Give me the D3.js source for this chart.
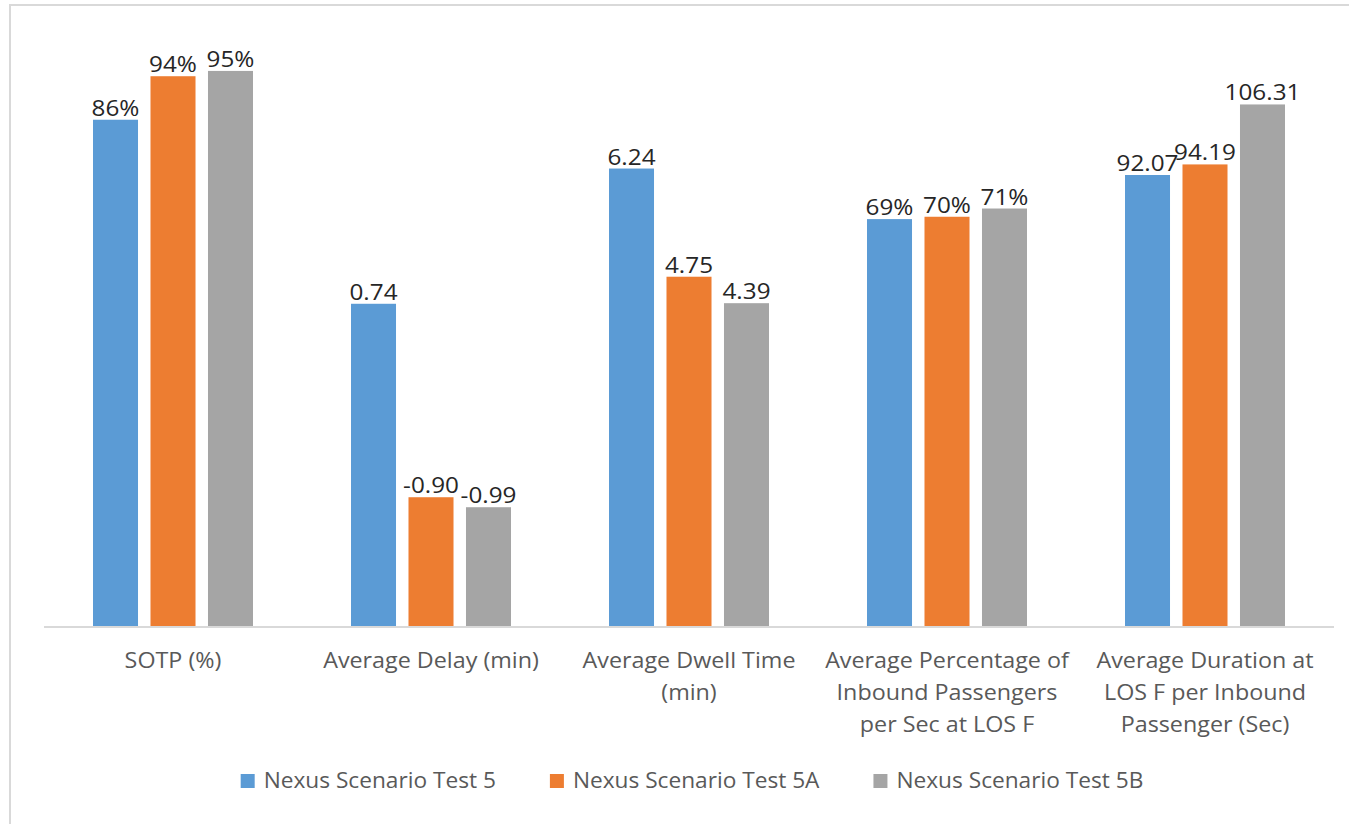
<!DOCTYPE html>
<html><head><meta charset="utf-8">
<script src="https://cdn.jsdelivr.net/npm/d3@7"></script>
<style>
html,body{margin:0;padding:0;background:#fff;}
svg{display:block;}
</style></head>
<body>
<svg id="chart" width="1349" height="824"></svg>
<script>
// ---- data ----
const categories = [
  "SOTP (%)",
  "Average Delay (min)",
  "Average Dwell Time (min)",
  "Average Percentage of Inbound Passengers per Sec at LOS F",
  "Average Duration at LOS F per Inbound Passenger (Sec)"
];
const categoryLines = [
  ["SOTP (%)"],
  ["Average Delay (min)"],
  ["Average Dwell Time", "(min)"],
  ["Average Percentage of", "Inbound Passengers", "per Sec at LOS F"],
  ["Average Duration at", "LOS F per Inbound", "Passenger (Sec)"]
];
const seriesNames = ["Nexus Scenario Test 5", "Nexus Scenario Test 5A", "Nexus Scenario Test 5B"];
// displayed data labels
const labelsTest5  = ["86%", "0.74", "6.24", "69%", "92.07"];
const labelsTest5A = ["94%", "-0.90", "4.75", "70%", "94.19"];
const labelsTest5B = ["95%", "-0.99", "4.39", "71%", "106.31"];
// plotted (relative) bar heights (hidden axis 0-100)
const heightTest5  = [86.1, 54.8, 77.8, 69.2, 76.7];
const heightTest5A = [93.5, 21.9, 59.4, 69.6, 78.5];
const heightTest5B = [94.4, 20.2, 54.9, 71.0, 88.7];
const colors = ["#5B9BD5", "#ED7D31", "#A5A5A5"];

const series = [
  {name: seriesNames[0], labels: labelsTest5,  heights: heightTest5,  color: colors[0]},
  {name: seriesNames[1], labels: labelsTest5A, heights: heightTest5A, color: colors[1]},
  {name: seriesNames[2], labels: labelsTest5B, heights: heightTest5B, color: colors[2]}
];

const svg = d3.select("#chart");
const FONT = "'Open Sans', 'Noto Sans', sans-serif";

// stretched text helper
function sText(parent, x, yy, str, opts) {
  const g = parent.append("g").attr("transform", `translate(${x},${yy}) scale(${opts.sx},1)`);
  const t = g.append("text").attr("x", 0).attr("y", 0)
    .attr("text-anchor", opts.anchor || "middle")
    .attr("font-family", FONT).attr("font-size", opts.size || 21)
    .attr("fill", opts.fill).text(str);
  return {g, t};
}

// frame
svg.append("path").attr("d", "M10,1000 L10,5 L1400,5")
  .attr("fill", "none").attr("stroke", "#d9d9d9").attr("stroke-width", 2);

const baseY = 626;
const x0 = d3.scaleBand().domain(categories).range([44, 1334]).padding(0);
const x1 = d3.scaleBand().domain(seriesNames).range([49, 209]).paddingInner(0.217).paddingOuter(0);
const y = d3.scaleLinear().domain([0, 100]).range([baseY, 38]);

const groups = svg.append("g").selectAll("g").data(categories).join("g")
  .attr("transform", d => `translate(${x0(d)},0)`);

series.forEach(s => {
  groups.append("rect")
    .attr("x", x1(s.name))
    .attr("width", x1.bandwidth())
    .attr("y", (d, i) => y(s.heights[i]))
    .attr("height", (d, i) => baseY - y(s.heights[i]))
    .attr("fill", s.color);
  groups.each(function(d, i) {
    sText(d3.select(this), x1(s.name) + x1.bandwidth() / 2, y(s.heights[i]) - 4, s.labels[i],
      {sx: 1.13, fill: "#262626", size: 21.5});
  });
});

// axis line
svg.append("line").attr("x1", 44).attr("x2", 1334).attr("y1", baseY + 1).attr("y2", baseY + 1)
  .attr("stroke", "#d9d9d9").attr("stroke-width", 2);

// category labels
groups.each(function(d, i) {
  categoryLines[i].forEach((line, j) => {
    sText(d3.select(this), x0.bandwidth() / 2, 668 + j * 32, line, {sx: 1.11, fill: "#595959", size: 21});
  });
});

// legend
const legend = svg.append("g");
let cx = 0;
const gap = 54;
series.forEach((s, i) => {
  const g = legend.append("g");
  g.append("rect").attr("x", 0).attr("y", 774).attr("width", 14).attr("height", 14).attr("fill", s.color);
  const st = sText(g, 23, 788, s.name, {sx: 1.08, fill: "#595959", size: 21, anchor: "start"});
  const w = 23 + st.t.node().getComputedTextLength() * 1.08;
  g.attr("transform", `translate(${cx},0)`);
  cx += w + gap;
});
const totalW = cx - gap;
legend.attr("transform", `translate(${692 - totalW / 2},0)`);
</script>
</body></html>
